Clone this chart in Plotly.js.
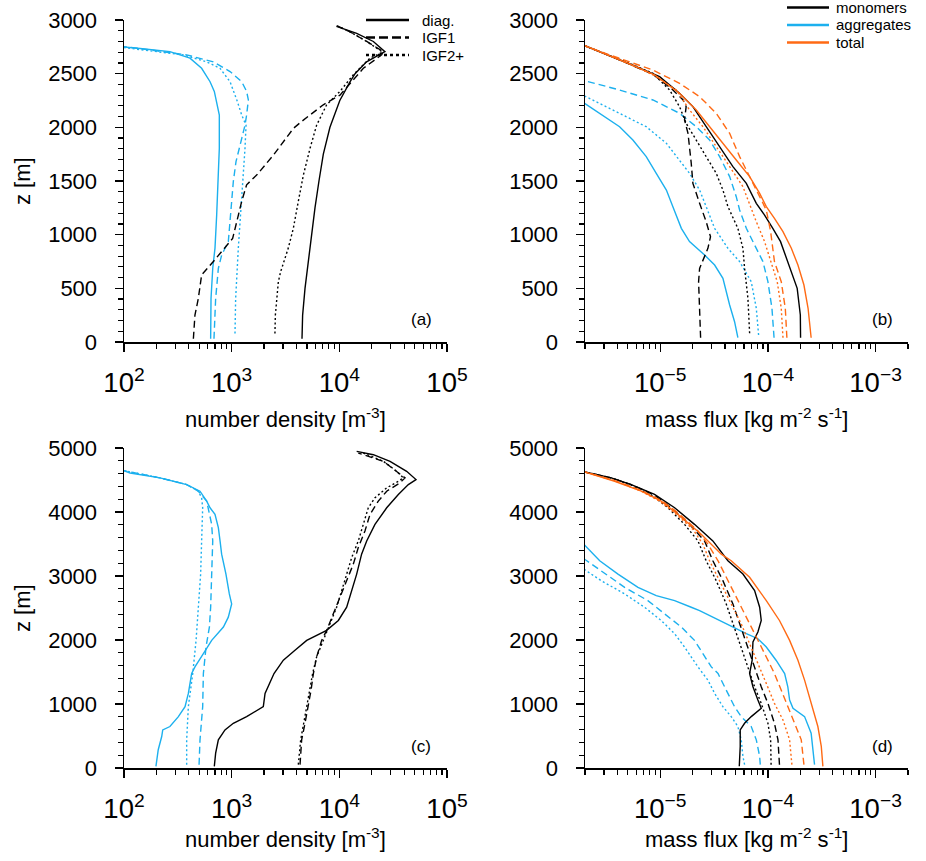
<!DOCTYPE html>
<html><head><meta charset="utf-8">
<script src="https://cdn.plot.ly/plotly-3.0.1.min.js"></script>
<style>html,body{margin:0;padding:0;background:#fff;}#chart{width:926px;height:861px;}</style>
</head><body><div id="chart"></div>
<script>
// ---------- Panel (a): number density [m^-3] vs z [m] ----------
const aMonoDiagZ = [30,250,500,750,1000,1250,1500,1750,2000,2250,2425,2500,2610,2705,2800,2875,2940];
const aMonoDiagN = [4500,4560,4800,5150,5530,5940,6470,7100,8180,10100,12600,14000,17900,26500,20700,14500,9400];
const aMonoIgf1Z = [30,250,405,625,750,875,965,1090,1310,1465,1555,1740,1990,2055,2210,2300,2425,2550,2675,2705,2800,2890,2955];
const aMonoIgf1N = [441,456,490,526,676,867,1021,1096,1239,1377,1706,2438,3741,4467,7096,10140,13030,16710,24720,25650,17950,12560,9120];
const aMonoIgf2Z = [80,250,560,655,875,1060,1310,1555,1805,2020,2210,2335,2490,2645,2700,2800,2890,2940];
const aMonoIgf2N = [2523,2545,2713,2851,3357,3741,4159,4634,5346,6152,7621,10140,13490,19280,25230,17950,12560,9790];
const aAggDiagZ = [30,405,685,875,1185,1495,1805,2115,2240,2335,2425,2550,2645,2705,2735,2750,2770];
const aAggDiagN = [638,643,667,700,726,741,768,768,726,690,630,526,410,267,141,102,60];
const aAggIgf1Z = [30,405,685,810,935,1120,1310,1495,1680,1865,2020,2115,2255,2335,2425,2520,2610,2675,2720,2750,2770];
const aAggIgf1N = [685,710,752,807,931,966,1000,1036,1097,1213,1330,1377,1429,1377,1239,966,676,382,187,106,60];
const aAggIgf2Z = [80,405,875,1185,1495,1805,2020,2115,2240,2425,2550,2610,2675,2720,2750,2770];
const aAggIgf2N = [1074,1089,1153,1213,1283,1330,1360,1239,1130,966,780,586,356,162,102,60];

// ---------- Panel (b): mass flux [kg m^-2 s^-1] vs z [m] ----------
const bMonoDiagZ = [40,252,500,749,935,1059,1183,1292,1478,1634,1820,2006,2193,2317,2472,2597,2674,2761];
const bMonoDiagF = [2.01e-4,2.00e-4,1.87e-4,1.53e-4,1.31e-4,1.11e-4,9.31e-5,7.80e-5,6.30e-5,4.73e-5,3.56e-5,2.67e-5,2.01e-5,1.51e-5,9.86e-6,5.01e-6,3.27e-6,1.98e-6];
const bMonoIgf1Z = [40,314,562,686,873,981,1121,1292,1478,1665,1944,2069,2193,2255,2364,2494,2597,2674,2761];
const bMonoIgf1F = [2.37e-5,2.32e-5,2.27e-5,2.32e-5,2.77e-5,2.93e-5,2.67e-5,2.32e-5,2.01e-5,1.94e-5,1.81e-5,1.68e-5,1.74e-5,1.63e-5,1.26e-5,8.55e-6,5.01e-6,3.27e-6,1.98e-6];
const bMonoIgf2Z = [81,407,686,873,1059,1261,1416,1572,1727,1882,2038,2193,2348,2503,2603,2674,2761];
const bMonoIgf2F = [6.76e-5,6.52e-5,6.07e-5,5.86e-5,5.26e-5,4.25e-5,3.82e-5,3.31e-5,2.67e-5,2.16e-5,1.74e-5,1.51e-5,1.22e-5,8.55e-6,5.01e-6,3.27e-6,1.98e-6];
const bAggDiagZ = [40,189,345,469,593,717,811,935,1059,1261,1416,1572,1727,1882,2006,2224,2240];
const bAggDiagF = [5.26e-5,4.90e-5,4.41e-5,4.10e-5,3.82e-5,3.20e-5,2.58e-5,1.87e-5,1.57e-5,1.31e-5,1.14e-5,9.18e-6,7.41e-6,5.57e-6,4.19e-6,1.98e-6,1.5e-6];
const bAggIgf1Z = [40,314,562,749,904,1059,1230,1354,1541,1727,1882,2006,2131,2255,2348,2435,2450];
const bAggIgf1F = [1.14e-4,1.09e-4,1.00e-4,8.99e-5,7.52e-5,6.30e-5,5.46e-5,5.08e-5,4.41e-5,3.56e-5,2.87e-5,2.16e-5,1.51e-5,8.55e-6,4.19e-6,1.98e-6,1.5e-6];
const bAggIgf2Z = [65,314,562,749,873,1059,1261,1416,1572,1696,1851,2006,2131,2292,2305];
const bAggIgf2F = [8.19e-5,7.80e-5,7.00e-5,5.46e-5,4.25e-5,3.20e-5,2.67e-5,2.32e-5,1.87e-5,1.51e-5,1.14e-5,7.41e-6,4.19e-6,1.98e-6,1.5e-6];
const bTotDiagZ = [40,314,531,717,873,1028,1152,1261,1385,1541,1696,1851,2006,2162,2317,2488,2597,2674,2761];
const bTotDiagF = [2.52e-4,2.36e-4,2.16e-4,1.90e-4,1.65e-4,1.38e-4,1.15e-4,9.66e-5,8.38e-5,6.76e-5,5.08e-5,3.82e-5,2.87e-5,2.16e-5,1.51e-5,8.85e-6,5.01e-6,3.27e-6,1.98e-6];
const bTotIgf1Z = [40,314,562,749,1028,1230,1354,1541,1727,1944,2131,2286,2410,2534,2612,2680,2761];
const bTotIgf1F = [1.50e-4,1.45e-4,1.33e-4,1.15e-4,1.06e-4,9.66e-5,8.38e-5,6.76e-5,5.46e-5,4.41e-5,3.31e-5,2.32e-5,1.51e-5,8.55e-6,5.01e-6,3.27e-6,1.98e-6];
const bTotIgf2Z = [40,314,562,749,935,1121,1292,1447,1634,1820,2006,2162,2348,2482,2597,2674,2761];
const bTotIgf2F = [1.38e-4,1.33e-4,1.22e-4,1.07e-4,9.31e-5,7.80e-5,6.76e-5,5.86e-5,4.41e-5,3.31e-5,2.49e-5,1.87e-5,1.41e-5,8.85e-6,5.01e-6,3.27e-6,1.98e-6];

// ---------- Panel (c): number density [m^-3] vs z [m] ----------
const cMonoDiagZ = [26,233,440,596,699,803,958,1166,1476,1684,1839,1994,2150,2305,2512,2771,3030,3341,3548,3807,4066,4274,4429,4507,4636,4792,4895,4947];
const cMonoDiagN = [690,710,752,867,1036,1377,1968,2042,2473,3020,3873,4977,7621,9790,11700,13030,14490,16100,17950,21430,27540,35320,43750,51520,42170,29580,20700,14490];
const cMonoIgf1Z = [52,440,699,958,1217,1476,1735,1994,2150,2409,2668,2927,3186,3445,3704,3963,4170,4325,4455,4533,4636,4792,4921];
const cMonoIgf1N = [4315,4467,4800,5150,5460,5740,6152,6855,7621,8790,10140,11700,13490,15000,17300,19280,23010,27540,36560,40740,34120,25650,15000];
const cMonoIgf2Z = [52,440,958,1476,1735,1994,2253,2512,2771,3030,3289,3548,3807,4066,4222,4377,4481,4533,4636,4792,4921];
const cMonoIgf2N = [4159,4375,4977,5650,6152,7096,8180,9440,10520,11700,13030,15000,16710,18580,21430,27540,35320,39260,34120,25650,16710];
const cAggDiagZ = [26,285,492,596,648,803,958,1166,1476,1580,1787,1994,2202,2357,2564,2720,3030,3341,3548,3756,3963,4066,4170,4325,4429,4533,4610,4646,4660];
const cAggDiagN = [198,208,224,229,267,320,369,396,425,456,546,652,838,931,1000,951,885,807,780,752,700,630,586,508,382,216,114,100,80];
const cAggIgf1Z = [52,440,958,1476,1891,2202,2512,3030,3548,3807,4066,4170,4325,4429,4533,4646,4660];
const cAggIgf1N = [498,508,538,546,578,621,638,656,667,652,607,586,490,382,216,100,80];
const cAggIgf2Z = [52,440,958,1476,1994,2512,3030,3548,4066,4222,4325,4429,4533,4646,4660];
const cAggIgf2N = [382,382,396,435,467,490,515,526,538,526,490,382,216,100,80];

// ---------- Panel (d): mass flux [kg m^-2 s^-1] vs z [m] ----------
const dMonoDiagZ = [26,337,596,699,803,932,1062,1269,1476,1684,1968,2124,2305,2512,2771,3030,3238,3548,3807,4066,4274,4429,4533,4626];
const dMonoDiagF = [5.42e-5,5.53e-5,5.53e-5,6.07e-5,7.00e-5,8.67e-5,8.07e-5,7.26e-5,6.76e-5,7.14e-5,7.26e-5,8.07e-5,8.67e-5,8.38e-5,7.52e-5,5.86e-5,4.25e-5,3.08e-5,2.08e-5,1.36e-5,8.85e-6,5.38e-6,3.51e-6,1.98e-6];
const dMonoIgf1Z = [52,440,699,1010,1269,1580,1891,2202,2564,2927,3238,3548,3807,4066,4263,4429,4533,4626];
const dMonoIgf1F = [1.28e-4,1.24e-4,1.15e-4,1.00e-4,8.67e-5,7.52e-5,6.52e-5,5.65e-5,4.73e-5,3.82e-5,3.08e-5,2.58e-5,1.87e-5,1.26e-5,8.85e-6,5.38e-6,3.51e-6,1.98e-6];
const dMonoIgf2Z = [52,440,699,1010,1269,1580,1891,2202,2564,2927,3238,3548,3807,4066,4248,4420,4533,4626];
const dMonoIgf2F = [1.07e-4,1.06e-4,1.00e-4,8.67e-5,7.52e-5,6.52e-5,5.65e-5,4.90e-5,4.10e-5,3.31e-5,2.67e-5,2.24e-5,1.68e-5,1.18e-5,8.55e-6,5.38e-6,3.51e-6,1.98e-6];
const dAggDiagZ = [52,285,544,803,932,1062,1269,1476,1684,1891,2020,2098,2202,2305,2460,2512,2616,2694,2823,3030,3238,3486,3500];
const dAggDiagF = [2.71e-4,2.62e-4,2.52e-4,2.19e-4,1.71e-4,1.59e-4,1.53e-4,1.43e-4,1.19e-4,9.66e-5,8.07e-5,6.30e-5,4.73e-5,3.56e-5,2.32e-5,1.94e-5,1.36e-5,9.18e-6,6.21e-6,4.05e-6,2.74e-6,1.98e-6,1.9e-6];
const dAggIgf1Z = [52,181,440,648,803,958,1217,1476,1580,1787,1994,2202,2409,2616,2823,3030,3263,3280];
const dAggIgf1F = [8.49e-5,8.38e-5,7.80e-5,7.00e-5,5.65e-5,4.90e-5,4.10e-5,3.44e-5,2.98e-5,2.49e-5,2.08e-5,1.57e-5,1.10e-5,7.67e-6,4.67e-6,3.15e-6,1.98e-6,1.9e-6];
const dAggIgf2Z = [52,181,440,648,803,958,1166,1373,1580,1891,2098,2305,2512,2720,2927,3108,3120];
const dAggIgf2F = [6.07e-5,5.86e-5,5.65e-5,5.26e-5,4.56e-5,3.82e-5,3.20e-5,2.77e-5,2.24e-5,1.68e-5,1.36e-5,1.02e-5,7.14e-6,4.67e-6,2.83e-6,1.98e-6,1.9e-6];
const dTotDiagZ = [26,337,648,932,1114,1373,1684,1994,2305,2616,2979,3238,3341,3652,3963,4170,4325,4481,4626];
const dTotDiagF = [3.24e-4,3.13e-4,2.91e-4,2.62e-4,2.44e-4,2.19e-4,1.90e-4,1.59e-4,1.28e-4,9.66e-5,6.76e-5,4.56e-5,3.69e-5,2.40e-5,1.46e-5,1.02e-5,6.67e-6,3.77e-6,1.98e-6];
const dTotIgf1Z = [52,440,699,958,1166,1476,1735,1994,2253,2564,2927,3238,3497,3704,3989,4180,4336,4491,4626];
const dTotIgf1F = [2.16e-4,2.04e-4,1.77e-4,1.53e-4,1.38e-4,1.15e-4,9.66e-5,8.07e-5,6.76e-5,5.46e-5,4.25e-5,3.44e-5,2.77e-5,2.24e-5,1.46e-5,1.02e-5,6.67e-6,3.77e-6,1.98e-6];
const dTotIgf2Z = [52,440,751,1010,1321,1632,1943,2253,2564,2927,3238,3497,3730,3989,4170,4325,4491,4626];
const dTotIgf2F = [1.67e-4,1.59e-4,1.38e-4,1.15e-4,9.66e-5,8.07e-5,6.76e-5,5.65e-5,4.56e-5,3.56e-5,2.87e-5,2.49e-5,2.01e-5,1.36e-5,9.86e-6,6.67e-6,3.77e-6,1.98e-6];

// ---------- labels ----------
const schemeNames = ['diag.', 'IGF1', 'IGF2+'];
const speciesNames = ['monomers', 'aggregates', 'total'];
const panelLabels = ['(a)', '(b)', '(c)', '(d)'];
const xTitleN = 'number density [m<sup>-3</sup>]';
const xTitleF = 'mass flux [kg m<sup>-2</sup> s<sup>-1</sup>]';
const yTitle = 'z [m]';

// ---------- styling ----------
const FONT = 'Liberation Sans, Arial, Helvetica, sans-serif';
const BLACK = '#000000', BLUE = '#1CB0EE', ORANGE = '#FF6A14';
const DASH = '7px,4px', DOT = '2px,2.5px';
const LW = 1.4;
const TICKFS = 22, TITLEFS = 22, LEGFS = 15, PANFS = 17;

function ln(x, y, color, dash, xa, ya) {
  return {type:'scatter', mode:'lines', x:x, y:y, xaxis:xa, yaxis:ya, showlegend:false,
          hoverinfo:'skip', line:{color:color, width:LW, dash:dash}};
}

const traces = [
  // (a)
  ln(aAggDiagN, aAggDiagZ, BLUE, 'solid', 'x', 'y'),
  ln(aAggIgf1N, aAggIgf1Z, BLUE, DASH, 'x', 'y'),
  ln(aAggIgf2N, aAggIgf2Z, BLUE, DOT, 'x', 'y'),
  ln(aMonoDiagN, aMonoDiagZ, BLACK, 'solid', 'x', 'y'),
  ln(aMonoIgf1N, aMonoIgf1Z, BLACK, DASH, 'x', 'y'),
  ln(aMonoIgf2N, aMonoIgf2Z, BLACK, DOT, 'x', 'y'),
  // (b)
  ln(bAggDiagF, bAggDiagZ, BLUE, 'solid', 'x2', 'y2'),
  ln(bAggIgf1F, bAggIgf1Z, BLUE, DASH, 'x2', 'y2'),
  ln(bAggIgf2F, bAggIgf2Z, BLUE, DOT, 'x2', 'y2'),
  ln(bMonoDiagF, bMonoDiagZ, BLACK, 'solid', 'x2', 'y2'),
  ln(bMonoIgf1F, bMonoIgf1Z, BLACK, DASH, 'x2', 'y2'),
  ln(bMonoIgf2F, bMonoIgf2Z, BLACK, DOT, 'x2', 'y2'),
  ln(bTotDiagF, bTotDiagZ, ORANGE, 'solid', 'x2', 'y2'),
  ln(bTotIgf1F, bTotIgf1Z, ORANGE, DASH, 'x2', 'y2'),
  ln(bTotIgf2F, bTotIgf2Z, ORANGE, DOT, 'x2', 'y2'),
  // (c)
  ln(cAggDiagN, cAggDiagZ, BLUE, 'solid', 'x3', 'y3'),
  ln(cAggIgf1N, cAggIgf1Z, BLUE, DASH, 'x3', 'y3'),
  ln(cAggIgf2N, cAggIgf2Z, BLUE, DOT, 'x3', 'y3'),
  ln(cMonoDiagN, cMonoDiagZ, BLACK, 'solid', 'x3', 'y3'),
  ln(cMonoIgf1N, cMonoIgf1Z, BLACK, DASH, 'x3', 'y3'),
  ln(cMonoIgf2N, cMonoIgf2Z, BLACK, DOT, 'x3', 'y3'),
  // (d)
  ln(dAggDiagF, dAggDiagZ, BLUE, 'solid', 'x4', 'y4'),
  ln(dAggIgf1F, dAggIgf1Z, BLUE, DASH, 'x4', 'y4'),
  ln(dAggIgf2F, dAggIgf2Z, BLUE, DOT, 'x4', 'y4'),
  ln(dMonoDiagF, dMonoDiagZ, BLACK, 'solid', 'x4', 'y4'),
  ln(dMonoIgf1F, dMonoIgf1Z, BLACK, DASH, 'x4', 'y4'),
  ln(dMonoIgf2F, dMonoIgf2Z, BLACK, DOT, 'x4', 'y4'),
  ln(dTotDiagF, dTotDiagZ, ORANGE, 'solid', 'x4', 'y4'),
  ln(dTotIgf1F, dTotIgf1Z, ORANGE, DASH, 'x4', 'y4'),
  ln(dTotIgf2F, dTotIgf2Z, ORANGE, DOT, 'x4', 'y4')
];

const W = 926, H = 861;
const dxL = [124/W, 447/W], dxR = [585/W, 908/W];
const dyT = [1 - 342/H, 1 - 20/H], dyB = [1 - 768/H, 1 - 448/H];

function base(extra) {
  return Object.assign({
    showline:true, linecolor:'black', linewidth:1.5, mirror:false,
    ticks:'outside', ticklen:8, tickwidth:1.5, tickcolor:'black',
    showgrid:false, zeroline:false, fixedrange:true, automargin:false,
    tickfont:{family:FONT, size:TICKFS, color:'black'}
  }, extra);
}
function xLog(range, domain, anchor) {
  return base({type:'log', range:range, domain:domain, anchor:anchor, dtick:1,
    exponentformat:'power', ticklabelstandoff:9,
    minor:{ticks:'outside', ticklen:5, tickwidth:1.2, tickcolor:'black', dtick:'D1', showgrid:false}});
}
function yLin(range, domain, anchor, dt, mdt) {
  return base({range:range, domain:domain, anchor:anchor, dtick:dt, ticklabelstandoff:13,
    minor:{ticks:'outside', ticklen:5, tickwidth:1.2, tickcolor:'black', dtick:mdt, showgrid:false}});
}
// overlay axes that draw the inner half of the crossing major ticks
function xIn(over, anchor, domain) {
  return {type:'log', matches:over, overlaying:over, anchor:anchor, domain:domain, dtick:1,
    showline:false, showgrid:false, zeroline:false, showticklabels:false, fixedrange:true,
    ticks:'inside', ticklen:5, tickwidth:1.5, tickcolor:'black', side:'bottom'};
}
function yIn(over, anchor, domain, dt) {
  return {matches:over, overlaying:over, anchor:anchor, domain:domain, dtick:dt,
    showline:false, showgrid:false, zeroline:false, showticklabels:false, fixedrange:true,
    ticks:'inside', ticklen:5, tickwidth:1.5, tickcolor:'black', side:'left'};
}

const fRange = [Math.log10(2e-6), Math.log10(2e-3)];

function ann(text, xpx, ypx, size, angle, xanchor) {
  return {text:text, x:xpx/W, y:1 - ypx/H, xref:'paper', yref:'paper', showarrow:false,
          xanchor:xanchor||'center', yanchor:'middle', textangle:angle||0, borderpad:0,
          font:{family:FONT, size:size, color:'black'}};
}

// hand-placed legend keys (line sample + label)
const legA = [{name:schemeNames[0], color:BLACK, dash:'solid'},
              {name:schemeNames[1], color:BLACK, dash:'9px,4px'},
              {name:schemeNames[2], color:BLACK, dash:'3px,3px'}];
const legB = [{name:speciesNames[0], color:BLACK, dash:'solid'},
              {name:speciesNames[1], color:BLUE, dash:'solid'},
              {name:speciesNames[2], color:ORANGE, dash:'solid'}];
const legAPos = {x0:366, x1:409, tx:421, y0:20, dy:17.5};
const legBPos = {x0:787, x1:829, tx:835, y0:7.5, dy:17.5};

const shapes = [], annotations = [
  ann(xTitleN, 285, 418, TITLEFS), ann(xTitleF, 746, 418, TITLEFS),
  ann(xTitleN, 285, 838, TITLEFS), ann(xTitleF, 746, 838, TITLEFS),
  ann(yTitle, 22, 181, TITLEFS, -90), ann(yTitle, 22, 608, TITLEFS, -90),
  ann(panelLabels[0], 421, 319, PANFS), ann(panelLabels[1], 882, 319, PANFS),
  ann(panelLabels[2], 421, 746, PANFS), ann(panelLabels[3], 882, 746, PANFS)
];
[[legA, legAPos], [legB, legBPos]].forEach(([items, p]) => {
  items.forEach((it, i) => {
    const yy = p.y0 + i * p.dy;
    shapes.push({type:'line', xref:'paper', yref:'paper', x0:p.x0/W, x1:p.x1/W, y0:1 - yy/H, y1:1 - yy/H,
                 line:{color:it.color, width:2.6, dash:it.dash}});
    annotations.push(ann(it.name, p.tx, yy, LEGFS, 0, 'left'));
  });
});

const layout = {
  width:W, height:H, margin:{l:0, r:0, t:0, b:0},
  paper_bgcolor:'white', plot_bgcolor:'white',
  font:{family:FONT, size:TICKFS, color:'black'},
  showlegend:false,
  xaxis: xLog([2,5], dxL, 'y'),
  yaxis: yLin([0,3000], dyT, 'x', 500, 100),
  xaxis2: xLog(fRange, dxR, 'y2'),
  yaxis2: yLin([0,3000], dyT, 'x2', 500, 100),
  xaxis3: xLog([2,5], dxL, 'y3'),
  yaxis3: yLin([0,5000], dyB, 'x3', 1000, 200),
  xaxis4: xLog(fRange, dxR, 'y4'),
  yaxis4: yLin([0,5000], dyB, 'x4', 1000, 200),
  xaxis5: xIn('x', 'y', dxL), yaxis5: yIn('y', 'x', dyT, 500),
  xaxis6: xIn('x2', 'y2', dxR), yaxis6: yIn('y2', 'x2', dyT, 500),
  xaxis7: xIn('x3', 'y3', dxL), yaxis7: yIn('y3', 'x3', dyB, 1000),
  xaxis8: xIn('x4', 'y4', dxR), yaxis8: yIn('y4', 'x4', dyB, 1000),
  shapes: shapes,
  annotations: annotations
};

Plotly.newPlot('chart', traces, layout, {displayModeBar:false, staticPlot:true});
</script>
</body></html>
